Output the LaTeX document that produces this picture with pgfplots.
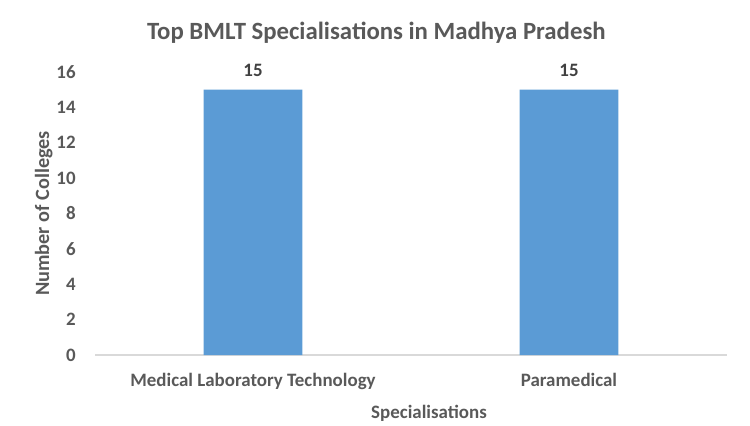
\documentclass[border=0pt]{standalone}
\usepackage{pgfplots}
\pgfplotsset{compat=1.18}
\usepackage{fontspec}
\setmainfont{Carlito}
\definecolor{barblue}{HTML}{5B9BD5}
\definecolor{txt}{HTML}{595959}
\definecolor{axl}{HTML}{D9D9D9}
\begin{document}
\begin{tikzpicture}[x=0.75pt,y=0.75pt]
\useasboundingbox (-95,-70) rectangle (655,355);
\begin{axis}[
  at={(0,0)}, anchor=south west,
  scale only axis,
  width=474pt, height=212.25pt,
  xmin=-0.5, xmax=1.5, ymin=0, ymax=16,
  ybar, bar width=0.313,
  bar shift=0pt,
  axis y line=none,
  axis x line*=bottom,
  axis line style={axl, line width=0.9pt},
  x axis line style={-},
  xtick=data,
  xticklabels={Medical Laboratory Technology, Paramedical},
  ytick={0,2,...,16},
  major tick length=0pt,
  xticklabel style={font=\fontsize{14.2}{16}\selectfont\bfseries, text=txt, yshift=-10pt},
  /pgf/number format/assume math mode=true,
  title={Top BMLT Specialisations in Madhya Pradesh},
  title style={font=\fontsize{18.6}{22}\selectfont\bfseries, text=txt, yshift=12pt, xshift=-26pt},
  xlabel={Specialisations},
  xlabel style={font=\fontsize{14.2}{16}\selectfont\bfseries, text=txt, xshift=13.5pt, yshift=-5pt},
  nodes near coords,
  every node near coord/.append style={font=\fontsize{14.2}{16}\selectfont\bfseries, text=black!75, yshift=6pt},
  clip=false,
]
\addplot[fill=barblue, draw=none] coordinates {(0,15) (1,15)};
\end{axis}
\begin{axis}[
  at={(0,0)}, anchor=south west,
  scale only axis,
  width=474pt, height=212.25pt,
  xmin=-0.5, xmax=1.5, ymin=0, ymax=16,
  axis x line=none,
  axis y line*=left,
  y axis line style={draw=none},
  ytick={0,2,...,16},
  major tick length=0pt,
  /pgf/number format/assume math mode=true,
  yticklabel style={font=\fontsize{14.2}{16}\selectfont\bfseries, text=txt, xshift=-11pt},
  ylabel={Number of Colleges},
  ylabel style={font=\fontsize{15.2}{17}\selectfont\bfseries, text=txt, yshift=-4pt},
]
\end{axis}
\end{tikzpicture}
\end{document}
